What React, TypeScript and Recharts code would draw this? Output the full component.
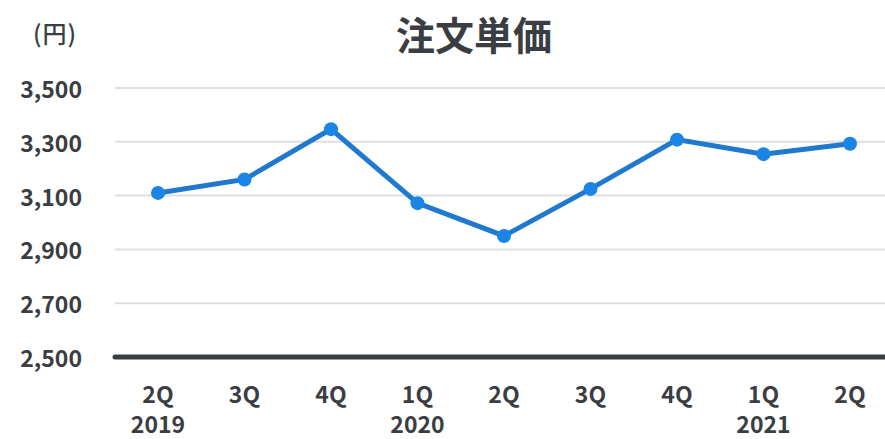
import { LineChart, Line, XAxis, YAxis, CartesianGrid, ReferenceLine } from "recharts";

const quarters = ["2Q", "3Q", "4Q", "1Q", "2Q", "3Q", "4Q", "1Q", "2Q"];
const years = ["2019", "", "", "2020", "", "", "", "2021", ""];
const unitPrice = [3110, 3160, 3347, 3072, 2950, 3125, 3308, 3254, 3293];
const yTicks = [2500, 2700, 2900, 3100, 3300, 3500];

const data = quarters.map((q, i) => ({ q: `${i}`, quarter: q, year: years[i], value: unitPrice[i] }));

const FONT = '"Noto Sans CJK JP", "Noto Sans", sans-serif';
const TEXT = "#3a3d42";

const QuarterTick = (props: any) => {
  const { x, y, payload } = props;
  const i = Number(payload.value);
  return (
    <g>
      <text x={x} y={y + 28} textAnchor="middle" dominantBaseline="central" fontFamily={FONT} fontWeight={700} fontSize={23} fill={TEXT}>
        {quarters[i]}
      </text>
      {years[i] && (
        <text x={x} y={y + 58} textAnchor="middle" dominantBaseline="central" fontFamily={FONT} fontWeight={700} fontSize={23} fill={TEXT}>
          {years[i]}
        </text>
      )}
    </g>
  );
};

const PriceTick = (props: any) => {
  const { y, payload } = props;
  return (
    <text x={82} y={y} textAnchor="end" dominantBaseline="central" fontFamily={FONT} fontWeight={700} fontSize={23} fill={TEXT}>
      {payload.value.toLocaleString("en-US")}
    </text>
  );
};

export default function App() {
  return (
    <div style={{ position: "absolute", left: 0, top: 0, width: 885, height: 439, background: "#fff", fontFamily: FONT }}>
      <div style={{ position: "absolute", left: 274, width: 400, top: 10, textAlign: "center", fontSize: 39, fontWeight: 700, color: TEXT, lineHeight: "46px" }}>
        注文単価
      </div>
      <div style={{ position: "absolute", left: 33, top: 18, fontSize: 24, fontWeight: 500, color: TEXT, lineHeight: "30px", letterSpacing: 1 }}>
        (円)
      </div>
      <LineChart width={885} height={439} data={data} margin={{ top: 88, right: 0, left: 0, bottom: 0 }}>
        <CartesianGrid vertical={false} stroke="#dfdfe2" strokeWidth={2} />
        <XAxis
          dataKey="q"
          axisLine={false}
          tickLine={false}
          height={82}
          padding={{ left: 43, right: 35 }}
          tick={<QuarterTick />}
          interval={0}
        />
        <YAxis
          domain={[2500, 3500]}
          ticks={yTicks}
          axisLine={false}
          tickLine={false}
          width={115}
          tick={<PriceTick />}
        />
        <ReferenceLine y={2500} stroke="#3a3d42" strokeWidth={5} strokeLinecap="round" />
        <Line
          type="linear"
          dataKey="value"
          stroke="#2079cf"
          strokeWidth={5}
          dot={{ r: 7, fill: "#1a85e5", stroke: "none" }}
          activeDot={false}
          isAnimationActive={false}
        />
      </LineChart>
    </div>
  );
}
